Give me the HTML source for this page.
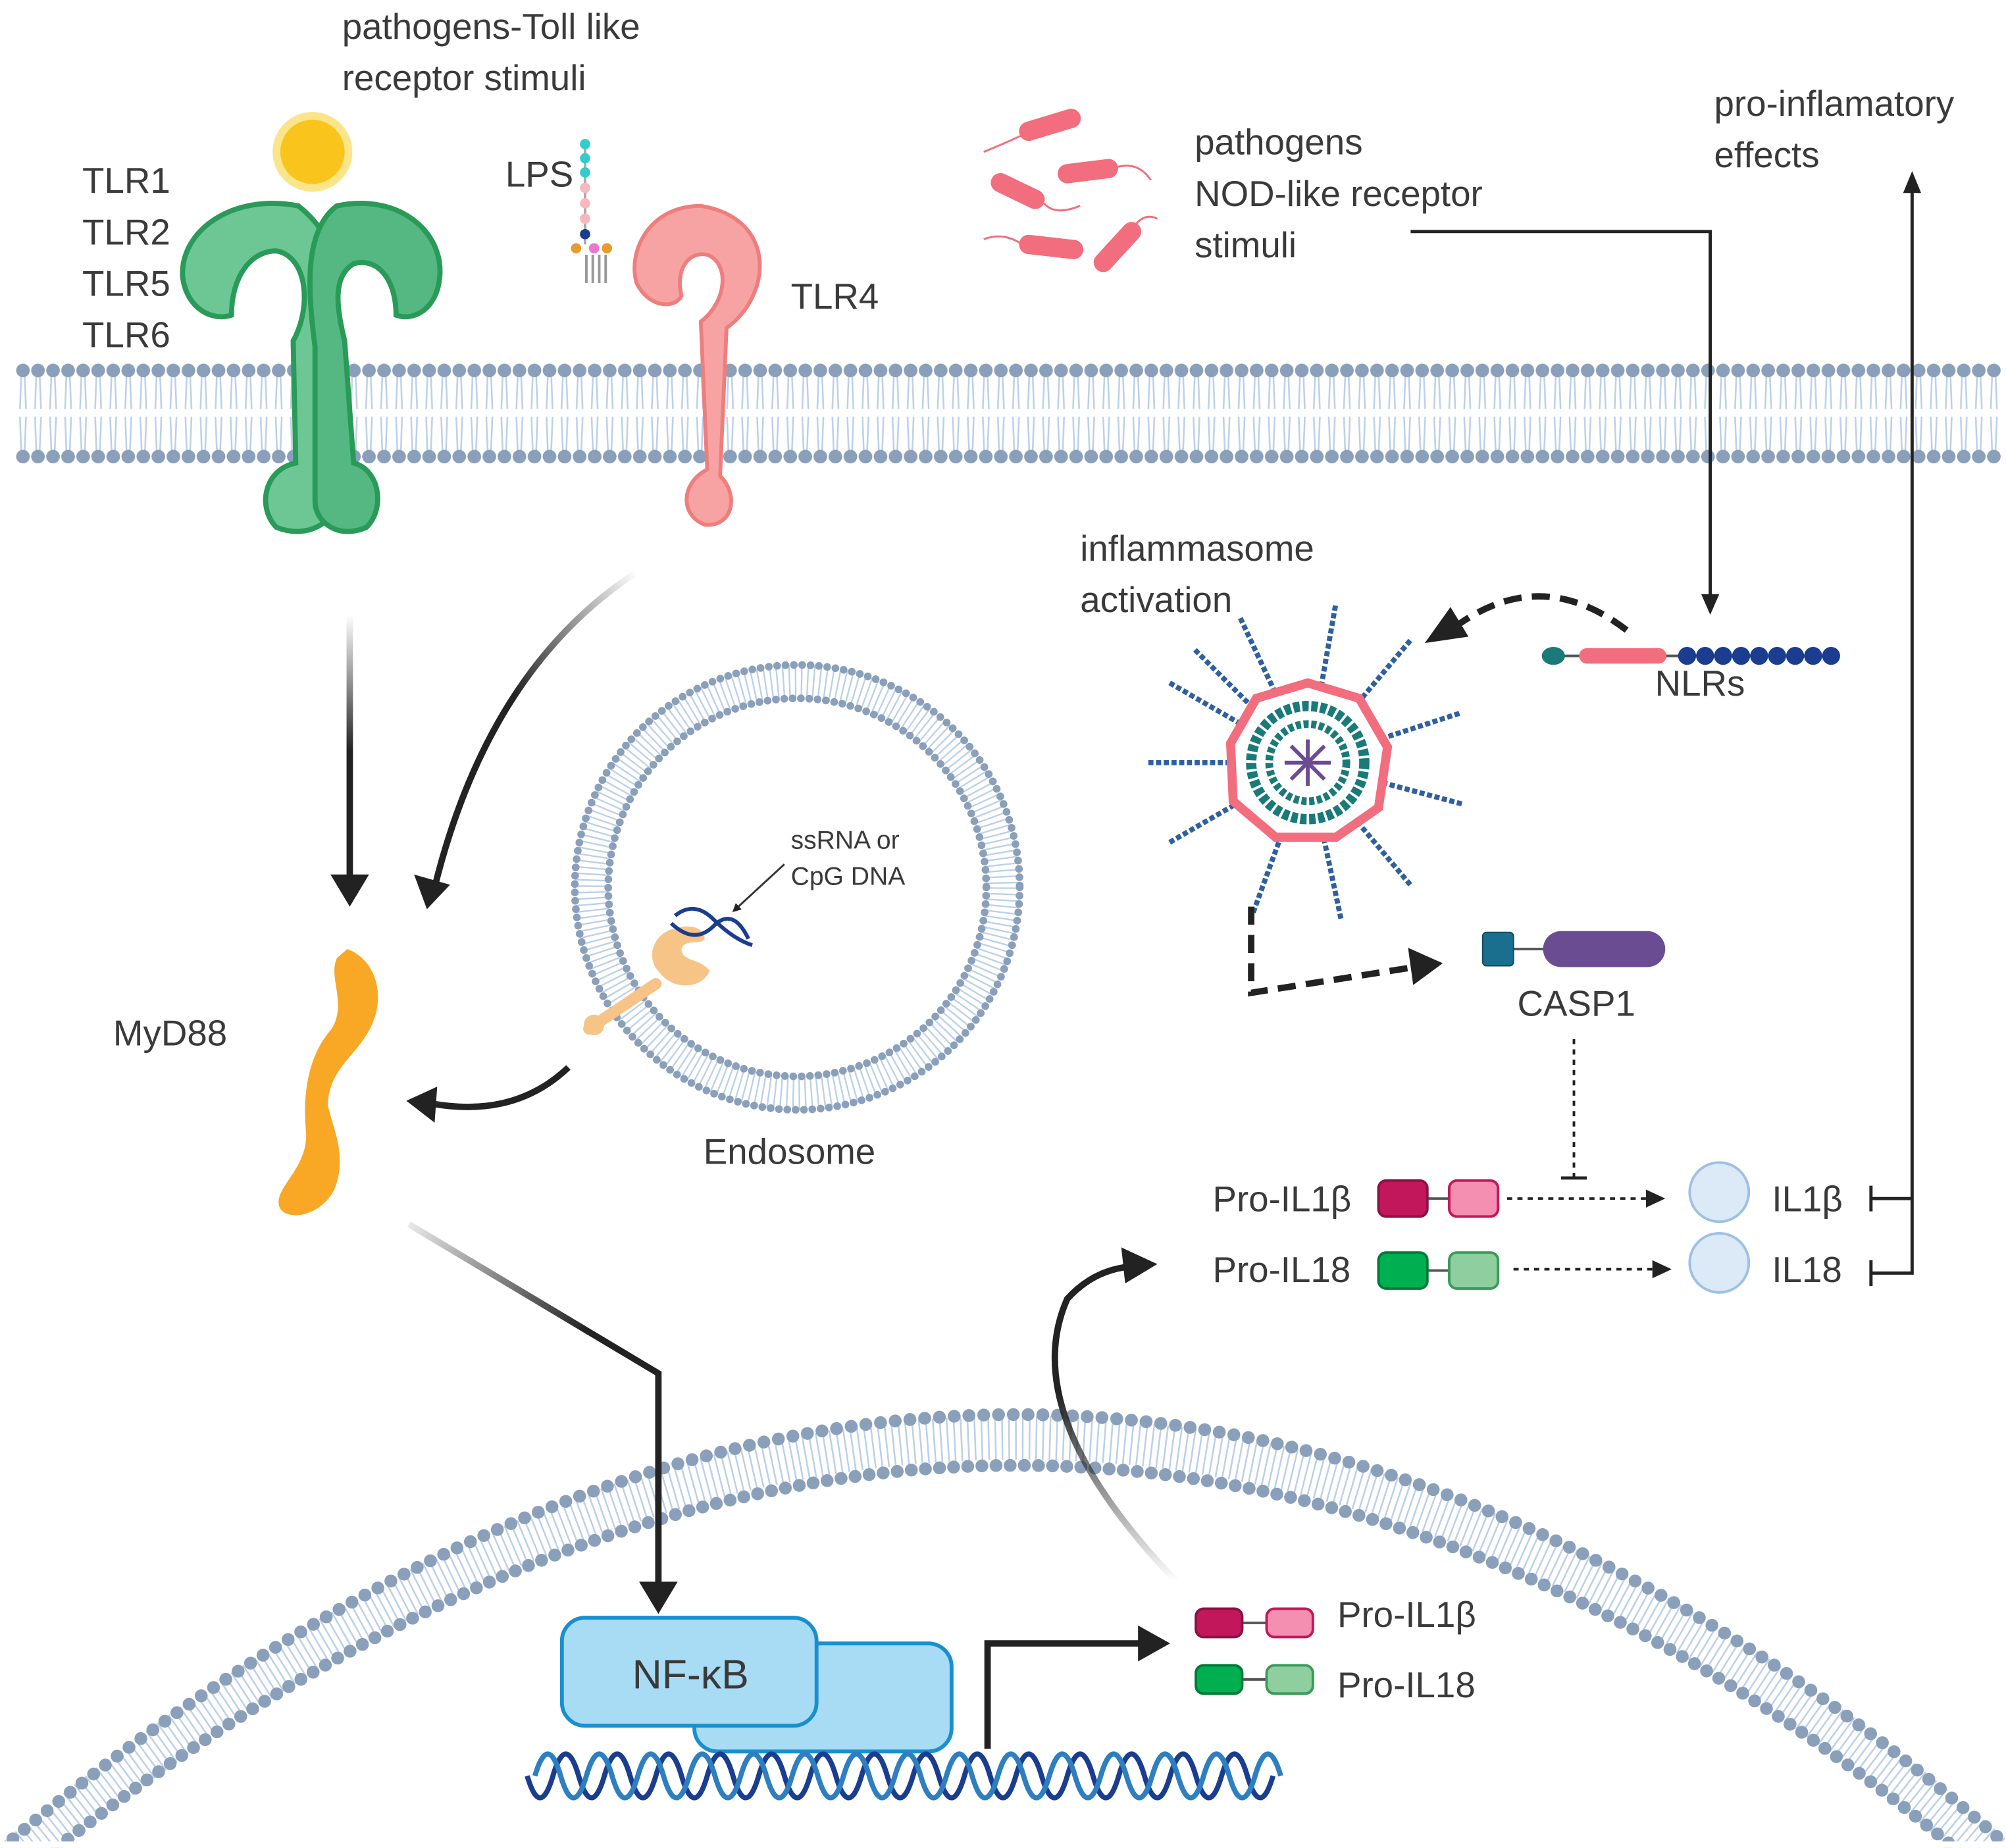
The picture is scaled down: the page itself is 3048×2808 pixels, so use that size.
<!DOCTYPE html>
<html><head><meta charset="utf-8"><style>
html,body{margin:0;padding:0;background:#fff;overflow:hidden}
svg{display:block}
text{font-family:"Liberation Sans",sans-serif;fill:#3a3a3a}
</style></head><body>
<svg width="3048" height="2808" viewBox="0 0 1560 1437" xmlns="http://www.w3.org/2000/svg">
<defs>
<pattern id="mem" x="12" y="280" width="11.7" height="82" patternUnits="userSpaceOnUse">
<path d="M4.5,12 L3.5,38 M7.2,12 L8.2,38 M3.5,44 L4.5,70 M8.2,44 L7.2,70" stroke="#bcd0e6" stroke-width="1.3" fill="none"/>
<circle cx="5.85" cy="8" r="5.3" fill="#8a9fba"/>
<circle cx="5.85" cy="75" r="5.3" fill="#8a9fba"/>
</pattern>
<marker id="ah" viewBox="0 0 10 10" refX="5" refY="5" markerWidth="4.5" markerHeight="4.5" orient="auto"><path d="M0,0 L10,5 L0,10 z" fill="#222"/></marker>
<linearGradient id="fadeV" x1="0" y1="478" x2="0" y2="690" gradientUnits="userSpaceOnUse"><stop offset="0" stop-color="#222" stop-opacity="0"/><stop offset="0.5" stop-color="#222"/></linearGradient>
<linearGradient id="fade1" x1="1" y1="0" x2="0" y2="1"><stop offset="0" stop-color="#222" stop-opacity="0"/><stop offset="0.5" stop-color="#222"/></linearGradient>
<linearGradient id="fade2" x1="0" y1="0" x2="1" y2="1"><stop offset="0" stop-color="#222" stop-opacity="0.1"/><stop offset="0.5" stop-color="#222"/></linearGradient>
<linearGradient id="fade3" x1="0" y1="1" x2="0" y2="0"><stop offset="0" stop-color="#222" stop-opacity="0"/><stop offset="0.6" stop-color="#222"/></linearGradient>
</defs>

<rect x="12" y="280" width="1545" height="82" fill="url(#mem)"/>

<path d="M10,1430 Q800,770 1555,1430" fill="none" stroke="#bcd0e6" stroke-width="34" stroke-dasharray="1.3 4" transform="translate(0,18)"/>
<path d="M10,1430 Q800,770 1555,1430" fill="none" stroke="#8a9fba" stroke-width="10" stroke-linecap="round" stroke-dasharray="0 11.5"/>
<path d="M44,1437 Q800,842 1520,1437" fill="none" stroke="#8a9fba" stroke-width="10" stroke-linecap="round" stroke-dasharray="0 11"/>
<rect x="0" y="1432" width="1560" height="5" fill="#fff"/>

<circle cx="620" cy="690" r="160" fill="none" stroke="#bcd0e6" stroke-width="26" stroke-dasharray="1.2 3.5"/>
<circle cx="620" cy="690" r="173" fill="none" stroke="#8a9fba" stroke-width="6" stroke-linecap="round" stroke-dasharray="0 6.5"/>
<circle cx="620" cy="690" r="147" fill="none" stroke="#8a9fba" stroke-width="6" stroke-linecap="round" stroke-dasharray="0 6.5"/>

<g stroke="#2a9a58" stroke-width="4" fill="#6cc794">
<path d="M232,160 C180,150 140,180 142,215 C145,240 165,250 180,245 C180,215 195,195 215,195 C240,200 242,240 228,265 L230,360 C205,365 200,395 215,410 C240,420 260,405 262,390 L250,270 C265,230 270,190 232,160 Z"/>
<path d="M262,160 C310,150 345,180 342,215 C340,240 322,250 308,245 C308,215 292,200 275,205 C258,215 262,240 268,265 L275,360 C295,365 300,395 285,410 C262,420 245,405 245,390 L245,270 C240,230 235,180 262,160 Z" fill="#55b882"/>
</g>
<circle cx="243" cy="118" r="28" fill="#f9c41c" stroke="#fbe58a" stroke-width="6"/>

<path d="M545,160 C505,160 488,195 495,220 C505,240 525,240 530,230 C525,210 535,195 550,198 C568,205 565,235 545,250 L550,365 C530,375 528,400 548,408 C570,410 575,385 560,370 L565,255 C600,230 605,170 545,160 Z" fill="#f7a3a3" stroke="#ee7e7e" stroke-width="3"/>
<g>
<line x1="455" y1="110" x2="455" y2="190" stroke="#aaa" stroke-width="2"/>
<circle cx="455" cy="112" r="4" fill="#33cccc"/><circle cx="455" cy="123" r="4" fill="#33cccc"/><circle cx="455" cy="134" r="4" fill="#33cccc"/>
<circle cx="455" cy="146" r="4" fill="#f7b8c0"/><circle cx="455" cy="158" r="4" fill="#f7b8c0"/><circle cx="455" cy="170" r="4" fill="#f7b8c0"/>
<circle cx="455" cy="182" r="4" fill="#1a3d8f"/>
<circle cx="448" cy="193" r="4" fill="#e89a2c"/><circle cx="462" cy="193" r="4" fill="#e878c8"/><circle cx="472" cy="193" r="4" fill="#e89a2c"/>
<path d="M456,198 v22 M461,198 v22 M466,198 v22 M471,198 v22" stroke="#999" stroke-width="2"/>
</g>

<g stroke="#f26d7d" stroke-width="15" stroke-linecap="round">
<line x1="800" y1="102" x2="833" y2="92"/>
<line x1="778" y1="142" x2="805" y2="155"/>
<line x1="830" y1="135" x2="862" y2="131"/>
<line x1="800" y1="190" x2="835" y2="194"/>
<line x1="858" y1="204" x2="880" y2="180"/>
</g>
<g stroke="#f26d7d" stroke-width="1.5" fill="none">
<path d="M795,105 Q780,112 765,118"/><path d="M812,158 Q820,168 840,160"/><path d="M868,130 Q885,125 895,140"/><path d="M795,190 Q780,180 765,186"/><path d="M882,176 Q890,165 900,170"/>
</g>

<path d="M270,738 C290,745 300,770 290,795 C280,820 255,830 255,860 C260,880 270,900 260,925 C250,945 225,950 218,940 C210,925 240,910 238,880 C235,850 240,820 258,800 C270,780 255,760 262,745 Z" fill="#f9a825"/>

<path d="M458,800 L510,765" stroke="#f7c488" stroke-width="9" stroke-linecap="round"/>
<circle cx="462" cy="797" r="8" fill="#f7c488"/>
<path d="M525,722 C508,725 502,745 512,755 C522,770 545,770 552,755 C545,745 530,748 530,738 C532,730 545,735 548,730 C548,722 538,718 525,722Z" fill="#f7c488"/>
<path d="M525,712 Q540,700 555,715 T585,735 M522,718 Q540,735 555,720 T582,730" stroke="#1a3d8f" stroke-width="3" fill="none"/>
<line x1="610" y1="672" x2="572" y2="707" stroke="#333" stroke-width="1.5" marker-end="url(#ah)"/>

<rect x="269.5" y="478" width="5" height="205" fill="url(#fadeV)"/>
<path d="M257,680 L287,680 L272,705 Z" fill="#222"/>
<path d="M495,445 Q380,520 338,690" stroke="url(#fade1)" stroke-width="5" fill="none"/>
<path d="M322,680 L350,688 L332,707 Z" fill="#222"/>
<path d="M442,830 Q400,870 335,858" stroke="url(#fade2)" stroke-width="5" fill="none"/>
<path d="M340,845 L316,856 L338,873 Z" fill="#222"/>
<path d="M318,952 L512,1068 L512,1238" stroke="url(#fade2)" stroke-width="5" fill="none"/>
<path d="M497,1230 L527,1230 L512,1255 Z" fill="#222"/>
<path d="M768,1360 L768,1278 L890,1278" stroke="#222" stroke-width="5" fill="none"/>
<path d="M885,1264 L910,1278 L885,1292 Z" fill="#222"/>
<path d="M915,1230 Q790,1100 830,1010 Q850,988 878,985" stroke="url(#fade3)" stroke-width="5" fill="none"/>
<path d="M872,970 L900,983 L875,998 Z" fill="#222"/>

<rect x="540" y="1278" width="200" height="84" rx="18" fill="#a8dcf4" stroke="#1a8fd0" stroke-width="3"/>
<rect x="437" y="1258" width="198" height="84" rx="18" fill="#a8dcf4" stroke="#1a8fd0" stroke-width="3"/>
<text x="537" y="1313" font-size="32" text-anchor="middle">NF-κB</text>

<path d="M410,1381 q10,34 20,0 q10,-34 20,0 q10,34 20,0 q10,-34 20,0 q10,34 20,0 q10,-34 20,0 q10,34 20,0 q10,-34 20,0 q10,34 20,0 q10,-34 20,0 q10,34 20,0 q10,-34 20,0 q10,34 20,0 q10,-34 20,0 q10,34 20,0 q10,-34 20,0 q10,34 20,0 q10,-34 20,0 q10,34 20,0 q10,-34 20,0 q10,34 20,0 q10,-34 20,0 q10,34 20,0 q10,-34 20,0 q10,34 20,0 q10,-34 20,0 q10,34 20,0 q10,-34 20,0 q10,34 20,0" stroke="#1a3d8f" stroke-width="4" fill="none"/>
<path d="M410,1381 q10,-34 20,0 q10,34 20,0 q10,-34 20,0 q10,34 20,0 q10,-34 20,0 q10,34 20,0 q10,-34 20,0 q10,34 20,0 q10,-34 20,0 q10,34 20,0 q10,-34 20,0 q10,34 20,0 q10,-34 20,0 q10,34 20,0 q10,-34 20,0 q10,34 20,0 q10,-34 20,0 q10,34 20,0 q10,-34 20,0 q10,34 20,0 q10,-34 20,0 q10,34 20,0 q10,-34 20,0 q10,34 20,0 q10,-34 20,0 q10,34 20,0 q10,-34 20,0 q10,34 20,0 q10,-34 20,0" stroke="#2d7fbf" stroke-width="4" fill="none" transform="translate(6,0)"/>

<g stroke-width="2">
<line x1="960" y1="1262" x2="990" y2="1262" stroke="#555"/>
<rect x="930" y="1251" width="36" height="22" rx="6" fill="#c2185b" stroke="#8e1144"/>
<rect x="985" y="1251" width="36" height="22" rx="6" fill="#f48fb1" stroke="#c2185b"/>
<line x1="960" y1="1306" x2="990" y2="1306" stroke="#555"/>
<rect x="930" y="1295" width="36" height="22" rx="6" fill="#00b050" stroke="#007a38"/>
<rect x="985" y="1295" width="36" height="22" rx="6" fill="#8fcf9f" stroke="#3a9a5a"/>
</g>
<text x="1040" y="1265" font-size="28">Pro-IL1β</text>
<text x="1040" y="1320" font-size="28">Pro-IL18</text>

<g stroke-width="2">
<line x1="1105" y1="932" x2="1130" y2="932" stroke="#555"/>
<rect x="1072" y="918" width="38" height="28" rx="6" fill="#c2185b" stroke="#8e1144"/>
<rect x="1127" y="918" width="38" height="28" rx="6" fill="#f48fb1" stroke="#c2185b"/>
<line x1="1105" y1="988" x2="1130" y2="988" stroke="#555"/>
<rect x="1072" y="974" width="38" height="28" rx="6" fill="#00b050" stroke="#007a38"/>
<rect x="1127" y="974" width="38" height="28" rx="6" fill="#8fcf9f" stroke="#3a9a5a"/>
</g>
<text x="943" y="942" font-size="28">Pro-IL1β</text>
<text x="943" y="997" font-size="28">Pro-IL18</text>
<line x1="1172" y1="932" x2="1280" y2="932" stroke="#222" stroke-width="2" stroke-dasharray="4 4"/>
<path d="M1280,925 L1295,932 L1280,939 Z" fill="#222"/>
<line x1="1177" y1="987" x2="1285" y2="987" stroke="#222" stroke-width="2" stroke-dasharray="4 4"/>
<path d="M1285,980 L1300,987 L1285,994 Z" fill="#222"/>
<circle cx="1337" cy="927" r="23" fill="#dce9f7" stroke="#9ec0e6" stroke-width="2"/>
<circle cx="1337" cy="982" r="23" fill="#dce9f7" stroke="#9ec0e6" stroke-width="2"/>
<text x="1378" y="942" font-size="28">IL1β</text>
<text x="1378" y="997" font-size="28">IL18</text>
<g stroke="#222" stroke-width="2.5" fill="none">
<path d="M1455,922 v20 M1455,932 H1487 M1455,980 v20 M1455,990 H1487 V145"/>
</g>
<path d="M1480,150 L1487,133 L1494,150 Z" fill="#222"/>
<text x="1333" y="90" font-size="28">pro-inflamatory</text>
<text x="1333" y="130" font-size="28">effects</text>

<text x="929" y="120" font-size="28">pathogens</text>
<text x="929" y="160" font-size="28">NOD-like receptor</text>
<text x="929" y="200" font-size="28">stimuli</text>
<path d="M1097,180 H1330 V465" stroke="#222" stroke-width="2.5" fill="none"/>
<path d="M1323,462 L1330,478 L1337,462 Z" fill="#222"/>

<line x1="1210" y1="510" x2="1430" y2="510" stroke="#555" stroke-width="2"/>
<ellipse cx="1208" cy="510" rx="9" ry="7" fill="#1a7a7a"/>
<rect x="1228" y="504" width="68" height="12" rx="6" fill="#f26d7d"/>
<g fill="#1a3d8f"><circle cx="1312" cy="510" r="7"/><circle cx="1326" cy="510" r="7"/><circle cx="1340" cy="510" r="7"/><circle cx="1354" cy="510" r="7"/><circle cx="1368" cy="510" r="7"/><circle cx="1382" cy="510" r="7"/><circle cx="1396" cy="510" r="7"/><circle cx="1410" cy="510" r="7"/><circle cx="1424" cy="510" r="7"/></g>
<text x="1287" y="541" font-size="28">NLRs</text>
<path d="M1265,490 Q1200,440 1135,485" stroke="#222" stroke-width="5" fill="none" stroke-dasharray="14 8"/>
<path d="M1128,472 L1108,500 L1142,495 Z" fill="#222"/>

<text x="840" y="436" font-size="28">inflammasome</text>
<text x="840" y="476" font-size="28">activation</text>
<g transform="translate(1017,593)">
<g stroke="#2f5f9f" stroke-width="4" stroke-dasharray="4 2">
<line x1="0" y1="0" x2="0" y2="-125" transform="rotate(-25)"/>
<line x1="0" y1="0" x2="0" y2="-125" transform="rotate(10)"/>
<line x1="0" y1="0" x2="0" y2="-125" transform="rotate(40)"/>
<line x1="0" y1="0" x2="0" y2="-125" transform="rotate(72)"/>
<line x1="0" y1="0" x2="0" y2="-125" transform="rotate(105)"/>
<line x1="0" y1="0" x2="0" y2="-125" transform="rotate(140)"/>
<line x1="0" y1="0" x2="0" y2="-125" transform="rotate(168)"/>
<line x1="0" y1="0" x2="0" y2="-125" transform="rotate(200)"/>
<line x1="0" y1="0" x2="0" y2="-125" transform="rotate(240)"/>
<line x1="0" y1="0" x2="0" y2="-125" transform="rotate(270)"/>
<line x1="0" y1="0" x2="0" y2="-125" transform="rotate(300)"/>
<line x1="0" y1="0" x2="0" y2="-125" transform="rotate(-45)"/>
</g>
<polygon points="0,-62 40,-50 62,-12 55,35 22,58 -25,58 -58,30 -60,-15 -40,-50" fill="#fff" stroke="#f26d7d" stroke-width="7"/>
<circle r="44" fill="#fff" stroke="#1a7a7a" stroke-width="8" stroke-dasharray="5 2"/>
<circle r="30" fill="#fff" stroke="#1a7a7a" stroke-width="6" stroke-dasharray="4 2"/>
<g stroke="#6a4c93" stroke-width="3"><line x1="-18" y1="0" x2="18" y2="0"/><line x1="0" y1="-18" x2="0" y2="18"/><line x1="-13" y1="-13" x2="13" y2="13"/><line x1="-13" y1="13" x2="13" y2="-13"/></g>
</g>
<path d="M973,705 V772 L1100,752" stroke="#222" stroke-width="5" fill="none" stroke-dasharray="14 8"/>
<path d="M1095,737 L1122,749 L1099,766 Z" fill="#222"/>

<line x1="1175" y1="738" x2="1205" y2="738" stroke="#555" stroke-width="2"/>
<rect x="1153" y="725" width="24" height="26" rx="3" fill="#1a6f8f" stroke="#0f4a60"/>
<rect x="1200" y="724" width="95" height="28" rx="14" fill="#6a4c93"/>
<text x="1180" y="790" font-size="28">CASP1</text>
<line x1="1224" y1="808" x2="1224" y2="915" stroke="#222" stroke-width="2" stroke-dasharray="4 4"/>
<line x1="1214" y1="916" x2="1234" y2="916" stroke="#222" stroke-width="2.5"/>

<text x="266" y="30" font-size="28">pathogens-Toll like</text>
<text x="266" y="70" font-size="28">receptor stimuli</text>
<text x="64" y="150" font-size="28">TLR1</text>
<text x="64" y="190" font-size="28">TLR2</text>
<text x="64" y="230" font-size="28">TLR5</text>
<text x="64" y="270" font-size="28">TLR6</text>
<text x="393" y="145" font-size="28">LPS</text>
<text x="615" y="240" font-size="28">TLR4</text>
<text x="88" y="813" font-size="28">MyD88</text>
<text x="615" y="660" font-size="20">ssRNA or</text>
<text x="615" y="688" font-size="20">CpG DNA</text>
<text x="547" y="905" font-size="28">Endosome</text>
</svg>
</body></html>
